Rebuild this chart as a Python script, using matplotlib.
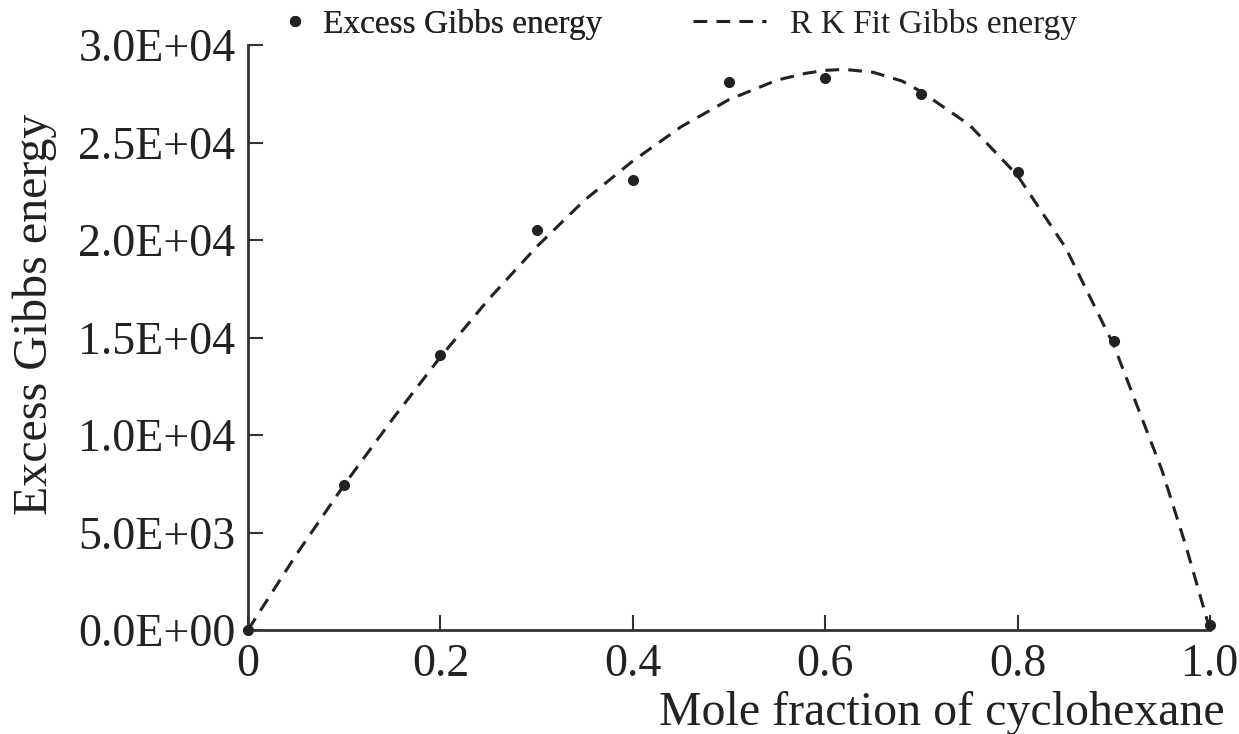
import matplotlib
matplotlib.use("Agg")
import matplotlib.pyplot as plt
from matplotlib.lines import Line2D

# ---- data ----
x_points = [0.0, 0.1, 0.2, 0.3, 0.4, 0.5, 0.6, 0.7, 0.8, 0.9, 1.0]
ge_points = [0, 7450, 14100, 20500, 23100, 28100, 28300, 27500, 23500, 14800, 250]

x_fit = [0.0, 0.05, 0.1, 0.15, 0.2, 0.25, 0.3, 0.35, 0.4, 0.45, 0.5, 0.55,
         0.58, 0.6, 0.62, 0.65, 0.68, 0.7, 0.75, 0.8, 0.85, 0.9, 0.95, 0.975, 1.0]
ge_fit = [0, 3850, 7450, 10800, 14000, 16950, 19650, 22050, 24050, 25800,
          27200, 28200, 28550, 28700, 28750, 28600, 28150, 27600, 25900, 23300,
          19600, 14600, 8200, 4300, 0]

x_ticks = [0, 0.2, 0.4, 0.6, 0.8, 1.0]
x_tick_labels = ["0", "0.2", "0.4", "0.6", "0.8", "1.0"]
y_ticks = [0, 5000, 10000, 15000, 20000, 25000, 30000]
y_tick_labels = ["0.0E+00", "5.0E+03", "1.0E+04", "1.5E+04", "2.0E+04",
                 "2.5E+04", "3.0E+04"]

plt.rcParams['font.family'] = ['Liberation Serif', 'DejaVu Serif']

fig = plt.figure(figsize=(12.39, 7.34), dpi=100)
ax = fig.add_axes([248/1239, 1-630/734, (1210-248)/1239, (630-45)/734])

col = "#222222"
ax.plot(x_fit, ge_fit, color=col, lw=2.2, ls=(0, (4.5, 3)), zorder=2)
ax.plot(x_points, ge_points, 'o', color=col, ms=7, zorder=3, clip_on=False)

ax.set_xlim(0, 1.0)
ax.set_ylim(0, 30000)
ax.set_xticks(x_ticks)
ax.set_xticklabels(x_tick_labels)
ax.set_yticks(y_ticks)
ax.set_yticklabels(y_tick_labels)

for s in ["top", "right"]:
    ax.spines[s].set_visible(False)
for s in ["left", "bottom"]:
    ax.spines[s].set_linewidth(2)
    ax.spines[s].set_color("#333333")

ax.tick_params(direction='in', length=11, width=1.5, colors="#333333",
               labelsize=33, labelcolor="#222222")
ax.tick_params(axis='x', pad=10)
ax.tick_params(axis='y', pad=9)

ax.set_xlabel("Mole fraction of cyclohexane", fontsize=34.5, color="#222222")
ax.xaxis.set_label_coords(1.015, -0.105)
ax.xaxis.label.set_horizontalalignment('right')
ax.set_ylabel("Excess Gibbs energy", fontsize=34.5, color="#222222")
ax.yaxis.set_label_coords(-0.199, 0.54)

h1 = Line2D([], [], marker='o', ls='none', color=col, ms=7)
h2 = Line2D([], [], color=col, lw=2.2, ls=(0, (4.5, 3)))
leg1 = fig.legend([h1], ["Excess Gibbs energy"], loc='center left',
                  bbox_to_anchor=(282/1239, 1-24/734), frameon=False,
                  fontsize=24, handlelength=0.8, handletextpad=0.42,
                  borderpad=0, borderaxespad=0, labelcolor="#222222")
fig.add_artist(leg1)
leg2 = fig.legend([h2], ["R K Fit Gibbs energy"], loc='center left',
                  bbox_to_anchor=(693/1239, 1-24/734), frameon=False,
                  fontsize=24, handlelength=2.2, handletextpad=0.7,
                  borderpad=0, borderaxespad=0, labelcolor="#222222")

fig.savefig("out.png", dpi=100)
